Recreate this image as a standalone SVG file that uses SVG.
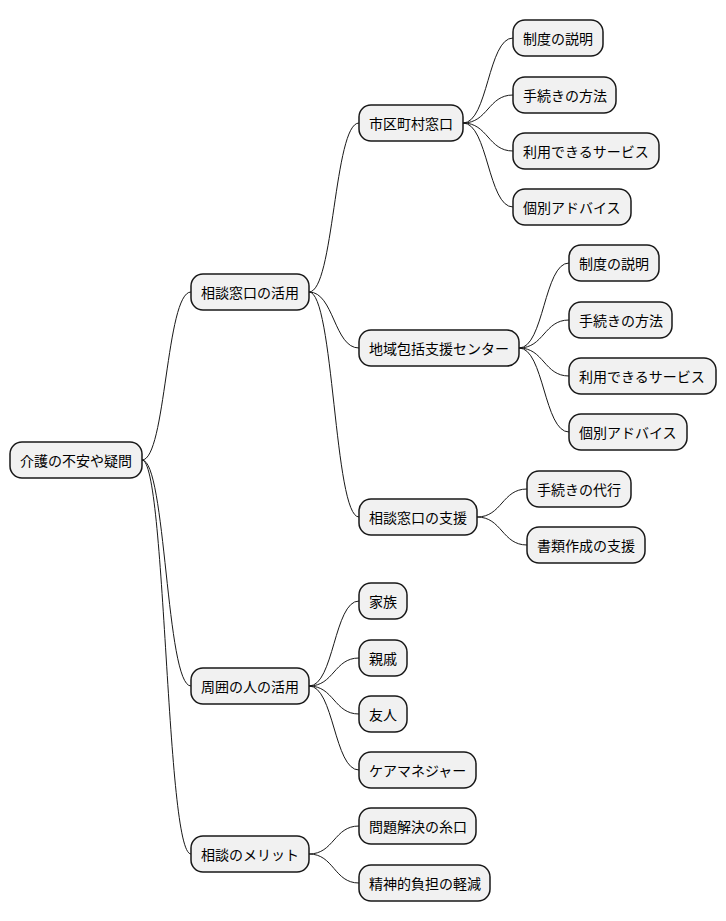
<svg xmlns="http://www.w3.org/2000/svg" width="726" height="921" viewBox="0 0 726 921">
<style>
rect{fill:#F1F1F1;stroke:#181818;stroke-width:1.5}
text{font-family:"Noto Sans CJK JP","Noto Sans",sans-serif;font-size:14px;fill:#000;dominant-baseline:central}
#c path{fill:none;stroke:#181818;stroke-width:1}
</style>
<rect width="726" height="921" fill="#fff" style="fill:#fff;stroke:none"/>
<g id="c">
<path d="M142 460 C166 460 166 292 191 292"/>
<path d="M142 460 C166 460 166 686 191 686"/>
<path d="M142 460 C166 460 166 854 191 854"/>
<path d="M309 292 C334 292 334 123 359 123"/>
<path d="M309 292 C334 292 334 348 359 348"/>
<path d="M309 292 C334 292 334 517 359 517"/>
<path d="M463 123 C488 123 488 38 513 38"/>
<path d="M463 123 C488 123 488 95 513 95"/>
<path d="M463 123 C488 123 488 151 513 151"/>
<path d="M463 123 C488 123 488 207 513 207"/>
<path d="M519 348 C544 348 544 263 569 263"/>
<path d="M519 348 C544 348 544 320 569 320"/>
<path d="M519 348 C544 348 544 376 569 376"/>
<path d="M519 348 C544 348 544 432 569 432"/>
<path d="M477 517 C502 517 502 489 527 489"/>
<path d="M477 517 C502 517 502 545 527 545"/>
<path d="M309 686 C334 686 334 601 359 601"/>
<path d="M309 686 C334 686 334 658 359 658"/>
<path d="M309 686 C334 686 334 714 359 714"/>
<path d="M309 686 C334 686 334 770 359 770"/>
<path d="M309 854 C334 854 334 826 359 826"/>
<path d="M309 854 C334 854 334 883 359 883"/>
</g>
<g id="n0"><rect x="10" y="442" width="132" height="36" rx="12"/><text x="20" y="460">介護の不安や疑問</text></g>
<g id="n1"><rect x="191" y="274" width="118" height="36" rx="12"/><text x="201" y="292">相談窓口の活用</text></g>
<g id="n2"><rect x="191" y="668" width="118" height="36" rx="12"/><text x="201" y="686">周囲の人の活用</text></g>
<g id="n3"><rect x="191" y="836" width="118" height="36" rx="12"/><text x="201" y="854">相談のメリット</text></g>
<g id="n4"><rect x="359" y="105" width="104" height="36" rx="12"/><text x="369" y="123">市区町村窓口</text></g>
<g id="n5"><rect x="359" y="330" width="160" height="36" rx="12"/><text x="369" y="348">地域包括支援センター</text></g>
<g id="n6"><rect x="359" y="499" width="118" height="36" rx="12"/><text x="369" y="517">相談窓口の支援</text></g>
<g id="n7"><rect x="513" y="20" width="90" height="36" rx="12"/><text x="523" y="38">制度の説明</text></g>
<g id="n8"><rect x="513" y="77" width="103" height="36" rx="12"/><text x="523" y="95">手続きの方法</text></g>
<g id="n9"><rect x="513" y="133" width="146" height="36" rx="12"/><text x="523" y="151">利用できるサービス</text></g>
<g id="n10"><rect x="513" y="189" width="118" height="36" rx="12"/><text x="523" y="207">個別アドバイス</text></g>
<g id="n11"><rect x="569" y="245" width="90" height="36" rx="12"/><text x="579" y="263">制度の説明</text></g>
<g id="n12"><rect x="569" y="302" width="103" height="36" rx="12"/><text x="579" y="320">手続きの方法</text></g>
<g id="n13"><rect x="569" y="358" width="147" height="36" rx="12"/><text x="579" y="376">利用できるサービス</text></g>
<g id="n14"><rect x="569" y="414" width="118" height="36" rx="12"/><text x="579" y="432">個別アドバイス</text></g>
<g id="n15"><rect x="527" y="471" width="104" height="36" rx="12"/><text x="537" y="489">手続きの代行</text></g>
<g id="n16"><rect x="527" y="527" width="118" height="36" rx="12"/><text x="537" y="545">書類作成の支援</text></g>
<g id="n17"><rect x="359" y="583" width="48" height="36" rx="12"/><text x="369" y="601">家族</text></g>
<g id="n18"><rect x="359" y="640" width="48" height="36" rx="12"/><text x="369" y="658">親戚</text></g>
<g id="n19"><rect x="359" y="696" width="48" height="36" rx="12"/><text x="369" y="714">友人</text></g>
<g id="n20"><rect x="359" y="752" width="117" height="36" rx="12"/><text x="369" y="770">ケアマネジャー</text></g>
<g id="n21"><rect x="359" y="808" width="117" height="36" rx="12"/><text x="369" y="826">問題解決の糸口</text></g>
<g id="n22"><rect x="359" y="865" width="131" height="36" rx="12"/><text x="369" y="883">精神的負担の軽減</text></g>
</svg>
